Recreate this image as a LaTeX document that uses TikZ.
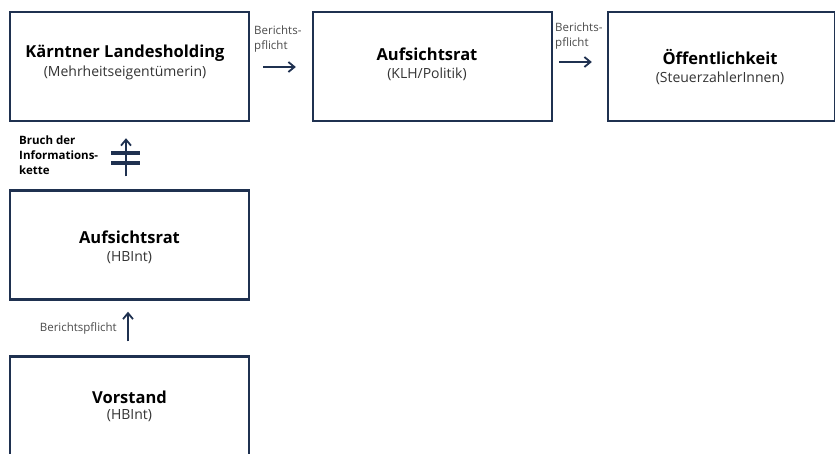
\documentclass[tikz,border=0pt]{standalone}
\usepackage{fontspec}
\setmainfont{Open Sans}
\usetikzlibrary{arrows.meta,calc}
\definecolor{navy}{HTML}{1F3150}
\definecolor{subgray}{HTML}{333333}
\definecolor{lblgray}{HTML}{4A4A4A}
\tikzset{
  box/.style={draw=navy,line width=2.4pt,minimum width=239pt,minimum height=109pt,inner sep=0pt},
  ttl/.style={font=\fontsize{16.5}{18}\selectfont\bfseries,text=black,inner sep=0pt},
  sub/.style={font=\fontsize{14}{16}\selectfont,text=subgray,inner sep=0pt},
  lbl/.style={font=\fontsize{11.5}{15}\selectfont,text=lblgray,inner sep=0pt,align=left},
  brk/.style={font=\fontsize{11.5}{15}\selectfont\bfseries,text=black,inner sep=0pt,align=left},
  arr/.style={draw=navy,line width=1.8pt,-{Straight Barb[length=6pt,width=10pt,line width=1.8pt]}},
  bar/.style={draw=navy,line width=3.8pt}
}
\begin{document}
\begin{tikzpicture}[x=1pt,y=-1pt]
\useasboundingbox (0,0) rectangle (835,453);
\clip (0,0) rectangle (835,453);
% boxes
\node[box] (b1) at (129.5,66.5) {};
\node[box] (b2) at (432.5,66.5) {};
\node[box,minimum width=227pt] (b3) at (721.5,66.5) {};
\node[box] (b4) at (129.5,245) {};
\node[box] (b5) at (129.5,411) {};
% texts
\node[ttl] (t1) at (125,53) {Kärntner Landesholding};
\node[sub] (s1) at (125,73) {(Mehrheitseigentümerin)};
\node[ttl] (t2) at (427,54) {Aufsichtsrat};
\node[sub] (s2) at (427,74) {(KLH/Politik)};
\node[ttl] (t3) at (720,57) {Öffentlichkeit};
\node[sub] (s3) at (720,78) {(SteuerzahlerInnen)};
\node[ttl] (t4) at (129.5,237) {Aufsichtsrat};
\node[sub] (s4) at (129.5,258) {(HBInt)};
\node[ttl] (t5) at (129.5,397) {Vorstand};
\node[sub] (s5) at (129.5,416) {(HBInt)};
% horizontal arrows
\draw[arr,shorten <=13pt,shorten >=16pt] ($(b1.east)+(0,0.5)$) -- ($(b2.west)+(0,0.5)$);
\node[lbl,anchor=north west] (l1) at (254,26) {Berichts-\\pflicht};
\draw[arr,shorten <=6pt,shorten >=15pt] ($(b2.east)+(0,-4.5)$) -- ($(b3.west)+(0,-4.5)$);
\node[lbl,anchor=north west] (l2) at (555,23) {Berichts-\\pflicht};
% broken vertical arrow
\draw[arr,shorten <=13pt,shorten >=16pt] ($(b4.north)+(-3.5,0)$) -- ($(b1.south)+(-3.5,0)$);
\coordinate (k1) at (126,153);
\coordinate (k2) at (126,163);
\draw[bar] ($(k1)+(-15,0)$) -- ($(k1)+(14,0)$);
\draw[bar] ($(k2)+(-15,0)$) -- ($(k2)+(14,0)$);
\node[brk,anchor=north west] (l3) at (19,136) {Bruch der\\Informations-\\kette};
% lower arrow
\draw[arr,shorten <=14pt,shorten >=11pt] ($(b5.north)+(-1.5,0)$) -- ($(b4.south)+(-1.5,0)$);
\node[lbl,anchor=east] (l4) at (117,328) {Berichtspflicht};
\end{tikzpicture}
\end{document}
